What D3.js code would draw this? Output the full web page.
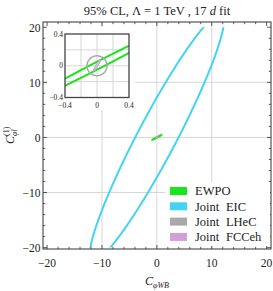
<!DOCTYPE html>
<html>
<head>
<meta charset="utf-8">
<script src="https://cdn.jsdelivr.net/npm/d3@7"></script>
<style>
  body { margin: 0; background: #fff; }
  text { font-family: "Liberation Serif", "DejaVu Serif", serif; fill: #222; }
</style>
</head>
<body>
<svg id="chart" width="273" height="291"></svg>
<script>
// ---- data ----
var mainTicks = [-20, -10, 0, 10, 20];
var mainMinor = [-18, -16, -14, -12, -8, -6, -4, -2, 2, 4, 6, 8, 12, 14, 16, 18];
var mainGrid = [-10, 0, 10];
var insetTicks = [-0.4, 0, 0.4];
var insetGrid = [-0.2, 0, 0.2];

var names = ['EWPO', 'Joint EIC', 'Joint LHeC', 'Joint FCCeh'];
var colors = ['#19e619', '#43d3f3', '#a9a9a9', '#d29fd8'];
var strokes = [2, 2, 1.5, 1.2];
// 95% CL regions, centre + shape matrix:  x = cx + a*cos t + b*sin t ; y = cy + c*cos t + d*sin t
var centerX = [0, 0, 0, 0];
var centerY = [0, 0, 0, 0.005];
var shapeA = [0, 3.95, 0.125, 0.013];
var shapeB = [0.85, 11.6, 0, 0.041];
var shapeC = [0.05, 0, 0, 0];
var shapeD = [0.44, 22.5, 0.125, 0.07];

var svg = d3.select('#chart');

var x = d3.scaleLinear().domain([-20.75, 20.8]).range([43, 271]);
var y = d3.scaleLinear().domain([-20.25, 20.95]).range([249, 22]);

var fmt = function (d) { return d3.format('')(d); };

// outline of region i through given scales
function region(i, sx, sy) {
  var t = d3.range(0, 2 * Math.PI + 0.001, Math.PI / 180);
  return d3.line()
    .x(function (a) { return sx(centerX[i] + shapeA[i] * Math.cos(a) + shapeB[i] * Math.sin(a)); })
    .y(function (a) { return sy(centerY[i] + shapeC[i] * Math.cos(a) + shapeD[i] * Math.sin(a)); })(t);
}

var defs = svg.append('defs');
defs.append('clipPath').attr('id', 'mainclip').append('rect')
  .attr('x', x(-20.75)).attr('y', y(20))
  .attr('width', x(20.8) - x(-20.75)).attr('height', y(-20) - y(20));

// grid
svg.append('g').selectAll('line.gx').data(mainGrid).enter().append('line')
  .attr('x1', function (d) { return x(d); }).attr('x2', function (d) { return x(d); })
  .attr('y1', y.range()[1]).attr('y2', y.range()[0])
  .attr('stroke', '#d6d6d6').attr('stroke-width', 1);
svg.append('g').selectAll('line.gy').data(mainGrid).enter().append('line')
  .attr('y1', function (d) { return y(d); }).attr('y2', function (d) { return y(d); })
  .attr('x1', x.range()[0]).attr('x2', x.range()[1])
  .attr('stroke', '#d6d6d6').attr('stroke-width', 1);

// regions (main)
var gm = svg.append('g').attr('clip-path', 'url(#mainclip)');
[1, 0, 2, 3].forEach(function (i) {
  gm.append('path').attr('d', region(i, x, y))
    .attr('fill', 'none').attr('stroke', colors[i]).attr('stroke-width', strokes[i]);
});

// frame + ticks
var x0 = x.range()[0], x1 = x.range()[1], y0 = y.range()[1], y1 = y.range()[0];
svg.append('rect').attr('x', x0).attr('y', y0).attr('width', x1 - x0).attr('height', y1 - y0)
  .attr('fill', 'none').attr('stroke', '#333').attr('stroke-width', 1);

var tk = svg.append('g').attr('stroke', '#333').attr('stroke-width', 0.8);
function ticks(vals, len) {
  vals.forEach(function (v) {
    tk.append('line').attr('x1', x(v)).attr('x2', x(v)).attr('y1', y1).attr('y2', y1 - len);
    tk.append('line').attr('x1', x(v)).attr('x2', x(v)).attr('y1', y0).attr('y2', y0 + len);
    tk.append('line').attr('y1', y(v)).attr('y2', y(v)).attr('x1', x0).attr('x2', x0 + len);
    tk.append('line').attr('y1', y(v)).attr('y2', y(v)).attr('x1', x1).attr('x2', x1 - len);
  });
}
ticks(mainTicks, 4);
ticks(mainMinor, 2.2);

svg.append('g').selectAll('text').data(mainTicks).enter().append('text')
  .attr('x', function (d) { return x(d); }).attr('y', 266.5)
  .attr('text-anchor', 'middle').attr('font-size', 11.5)
  .text(fmt);
svg.append('g').selectAll('text').data(mainTicks).enter().append('text')
  .attr('x', 40.5).attr('y', function (d) { return y(d) + 4.5; })
  .attr('text-anchor', 'end').attr('font-size', 11.5)
  .text(fmt);

// title
var title = svg.append('text').attr('x', 157).attr('y', 14.5).attr('text-anchor', 'middle').attr('font-size', 12.5);
title.append('tspan').text('95% CL, \u039B = 1 TeV , 17 ');
title.append('tspan').attr('font-style', 'italic').text('d');
title.append('tspan').text(' fit');

// axis labels
var xl = svg.append('text').attr('x', 157).attr('y', 285).attr('text-anchor', 'middle').attr('font-size', 12);
xl.append('tspan').attr('font-style', 'italic').text('C');
xl.append('tspan').attr('font-style', 'italic').attr('font-size', 8).attr('dy', 2.5).text('\u03C6WB');

var yl = svg.append('g').attr('transform', 'translate(14,136) rotate(-90)');
yl.append('text').attr('x', -8).attr('y', 0).attr('font-size', 12).attr('font-style', 'italic').text('C');
yl.append('text').attr('x', 0).attr('y', 3).attr('font-size', 8).attr('font-style', 'italic').text('\u03C6l');
yl.append('text').attr('x', 0).attr('y', -5).attr('font-size', 8).text('(1)');

// ---- inset ----
var xi = d3.scaleLinear().domain([-0.4, 0.4]).range([65, 129]);
var yi = d3.scaleLinear().domain([-0.4, 0.4]).range([97.5, 34]);

svg.append('rect').attr('x', 47).attr('y', 27).attr('width', 88).attr('height', 83).attr('fill', '#fff');
defs.append('clipPath').attr('id', 'insetclip').append('rect')
  .attr('x', xi(-0.4)).attr('y', yi(0.4))
  .attr('width', xi(0.4) - xi(-0.4)).attr('height', yi(-0.4) - yi(0.4));

var gi = svg.append('g').attr('clip-path', 'url(#insetclip)');
insetGrid.forEach(function (v) {
  gi.append('line').attr('x1', xi(v)).attr('x2', xi(v)).attr('y1', yi(0.4)).attr('y2', yi(-0.4))
    .attr('stroke', '#d6d6d6').attr('stroke-width', 1);
  gi.append('line').attr('y1', yi(v)).attr('y2', yi(v)).attr('x1', xi(-0.4)).attr('x2', xi(0.4))
    .attr('stroke', '#d6d6d6').attr('stroke-width', 1);
});
[1, 0, 2, 3].forEach(function (i) {
  gi.append('path').attr('d', region(i, xi, yi))
    .attr('fill', 'none').attr('stroke', colors[i]).attr('stroke-width', strokes[i]);
});
svg.append('rect').attr('x', xi(-0.4)).attr('y', yi(0.4))
  .attr('width', xi(0.4) - xi(-0.4)).attr('height', yi(-0.4) - yi(0.4))
  .attr('fill', 'none').attr('stroke', '#444').attr('stroke-width', 1.3);

svg.append('g').selectAll('text').data(insetTicks).enter().append('text')
  .attr('x', function (d) { return xi(d); }).attr('y', 107.5)
  .attr('text-anchor', 'middle').attr('font-size', 7.5).text(fmt);
svg.append('g').selectAll('text').data(insetTicks).enter().append('text')
  .attr('x', 63).attr('y', function (d) { return yi(d) + 2.7; })
  .attr('text-anchor', 'end').attr('font-size', 7.5).text(fmt);

// ---- legend ----
svg.append('rect').attr('x', 165).attr('y', 182).attr('width', 105).attr('height', 64).attr('fill', '#fff');
var lg = svg.append('g').selectAll('g').data(names).enter().append('g')
  .attr('transform', function (d, i) { return 'translate(170,' + (187 + i * 15.3) + ')'; });
lg.append('rect').attr('width', 17).attr('height', 8)
  .attr('fill', function (d, i) { return colors[i]; });
lg.append('text').attr('x', 25).attr('y', 8.3).attr('font-size', 12.5)
  .attr('word-spacing', 3.5).text(function (d) { return d; });
</script>
</body>
</html>
